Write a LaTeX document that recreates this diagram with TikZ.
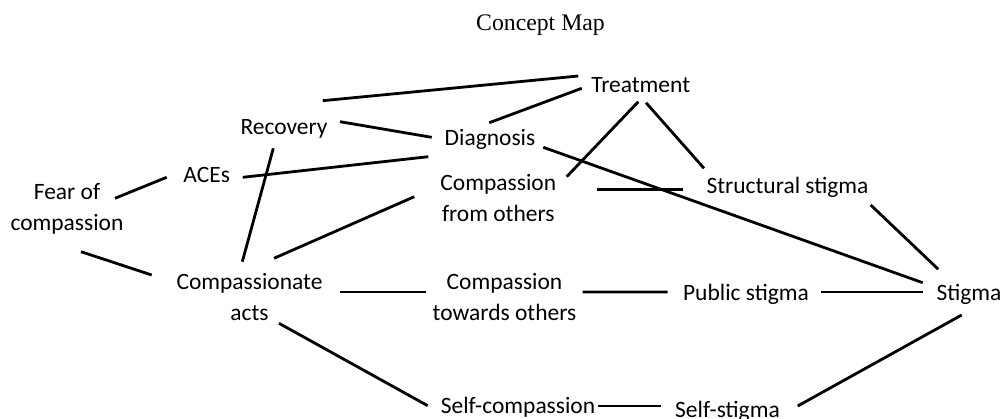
\documentclass[tikz,border=0pt]{standalone}
\usepackage{fontspec}
\setmainfont{Carlito}
\newfontfamily\titlefont{Liberation Serif}
\newcommand{\twol}[2]{\begin{tabular}[t]{@{}c@{}}#1\\#2\end{tabular}}
\begin{document}
\begin{tikzpicture}[x=0.75pt,y=-0.75pt,
  concept/.style={anchor=base,inner sep=0pt,font=\fontsize{17.6}{23.4}\selectfont},
  link/.style={line width=2.1pt,black}]
\useasboundingbox (0,0) rectangle (1003,418);
\node[anchor=base,inner sep=0pt,font=\titlefont\fontsize{17.8}{21}\selectfont] (title) at (540.5,30) {Concept Map};
\node[concept] (treat)  at (640.7,92.3) {Treatment};
\node[concept] (recov)  at (284,134) {Recovery};
\node[concept] (diag)   at (490,145) {Diagnosis};
\node[concept] (aces)   at (206.7,182.3) {ACEs};
\node[concept] (fear)   at (67,199.3) {\twol{Fear of}{compassion}};
\node[concept] (cfo)    at (498.3,190.7) {\twol{Compassion}{from others}};
\node[concept] (struct) at (787.5,193) {Structural stigma};
\node[concept] (cacts)  at (249.5,289.3) {\twol{Compassionate}{acts}};
\node[concept] (cto)    at (504.5,289.3) {\twol{Compassion}{towards others}};
\node[concept] (pub)    at (746,300) {Public stigma};
\node[concept] (stig)   at (969,300) {Stigma};
\node[concept] (selfc)  at (518,413) {Self-compassion};
\node[concept] (selfs)  at (727.5,417) {Self-stigma};
% connectors
\draw[link] ([shift={(38.7,-33.3)}]recov.base) -- ([shift={(-62.4,-16.3)}]treat.base);
\draw[link] ([shift={(56,-12.3)}]recov.base) -- ([shift={(-58.3,-7.7)}]diag.base);
\draw[link] ([shift={(-59,-4)}]treat.base) -- ([shift={(-0.7,-22.3)}]diag.base);
\draw[link] ([shift={(36,-5)}]aces.base) -- ([shift={(-61.7,11.7)}]diag.base);
\draw[link] ([shift={(48,-1)}]fear.base) -- ([shift={(-40,-5)}]aces.base);
\draw[link] ([shift={(-10.7,14.3)}]recov.base) -- ([shift={(-7.2,-27.6)}]cacts.base);
\draw[link] ([shift={(-84,6)}]cfo.base) -- ([shift={(24.5,-31)}]cacts.base);
\draw[link] ([shift={(-2.4,9.4)}]treat.base) -- ([shift={(68.4,-14)}]cfo.base);
\draw[link] ([shift={(5.3,10.4)}]treat.base) -- ([shift={(-83.5,-24.7)}]struct.base);
\draw[link] ([shift={(53.3,2.3)}]diag.base) -- ([shift={(-46.3,-17.3)}]stig.base);
\draw[link] ([shift={(98.4,-1.4)}]cfo.base) -- ([shift={(-104.8,-3.7)}]struct.base);
\draw[link] ([shift={(83.2,12)}]struct.base) -- ([shift={(-30.7,-30.7)}]stig.base);
\draw[link] ([shift={(14,52.4)}]fear.base) -- ([shift={(-97.8,-14.3)}]cacts.base);
\draw[link] ([shift={(90.5,2.7)}]cacts.base) -- ([shift={(-78.8,2.7)}]cto.base);
\draw[link] ([shift={(78.2,2.7)}]cto.base) -- ([shift={(-78.3,-8)}]pub.base);
\draw[link] ([shift={(75,-8)}]pub.base) -- ([shift={(-46.3,-8)}]stig.base);
\draw[link] ([shift={(29.5,34)}]cacts.base) -- ([shift={(-90.3,-7.3)}]selfc.base);
\draw[link] ([shift={(80.3,-7)}]selfc.base) -- ([shift={(-66.8,-11)}]selfs.base);
\draw[link] ([shift={(70.2,-11)}]selfs.base) -- ([shift={(-7.3,15)}]stig.base);
\end{tikzpicture}
\end{document}
